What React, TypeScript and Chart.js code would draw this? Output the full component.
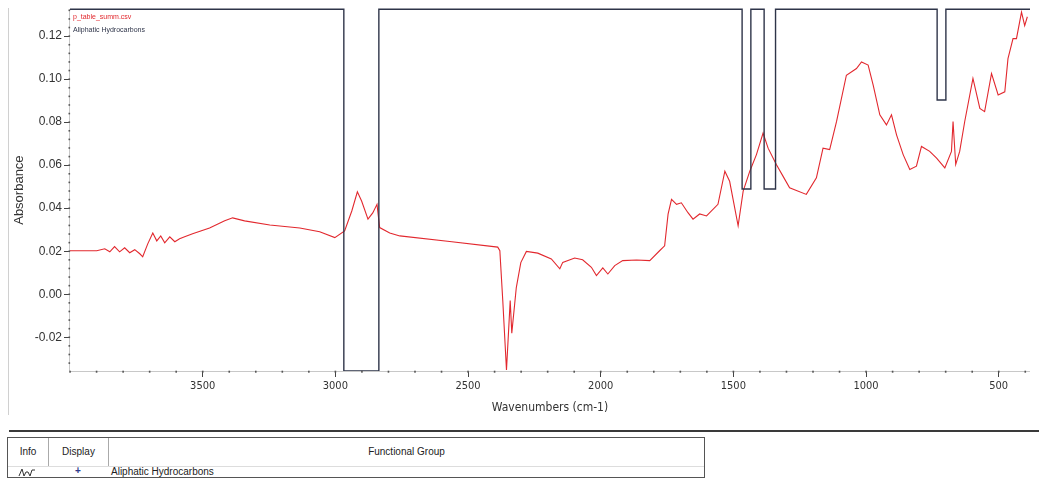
import React, { useEffect, useRef } from "react";
import { Chart, registerables } from "chart.js";

Chart.register(...registerables);

// IR spectrum (absorbance vs wavenumber)
const spectrumLabel = "p_table_summ.csv";
const spectrumWavenumbers = [
  4000, 3963, 3899, 3869, 3850, 3832, 3813, 3794, 3775, 3756, 3737, 3726, 3707, 3688, 3673, 3658,
  3643, 3624, 3605, 3587, 3568, 3538, 3474, 3417, 3387, 3342, 3247, 3134, 3059, 3002, 2965, 2938,
  2917, 2901, 2877, 2859, 2843, 2833, 2795, 2757, 2569, 2388, 2380, 2369, 2355, 2347, 2341, 2335,
  2318, 2301, 2280, 2237, 2186, 2154, 2143, 2098, 2068, 2035, 2016, 1992, 1973, 1947, 1917, 1865,
  1815, 1778, 1759, 1746, 1733, 1714, 1696, 1671, 1652, 1627, 1601, 1558, 1532, 1514, 1482, 1463,
  1438, 1413, 1388, 1369, 1338, 1313, 1288, 1225, 1187, 1162, 1137, 1111, 1074, 1036, 1017, 992,
  973, 948, 923, 904, 885, 860, 835, 810, 791, 760, 734, 703, 678, 672, 662, 647, 628, 597, 571,
  553, 527, 502, 477, 465, 446, 433, 414, 402, 392,
];
const spectrumAbsorbance = [
  0.0202, 0.0202, 0.0202, 0.0211, 0.0197, 0.0221, 0.0197, 0.0216, 0.0193, 0.0207, 0.0188, 0.0174,
  0.0234, 0.0285, 0.0248, 0.0271, 0.0239, 0.0267, 0.0244, 0.0258, 0.0267, 0.0281, 0.0308, 0.0341,
  0.0355, 0.0341, 0.0322, 0.0308, 0.029, 0.0263, 0.0294, 0.0387, 0.0476, 0.0433, 0.0349, 0.0378,
  0.0418, 0.031, 0.0285, 0.0271, 0.0245, 0.0219, 0.0202, -0.0029, -0.0352, -0.0168, -0.0029,
  -0.0181, 0.0031, 0.0147, 0.0199, 0.0191, 0.0164, 0.0118, 0.0148, 0.0168, 0.016, 0.0125, 0.0087,
  0.0122, 0.0094, 0.0133, 0.0156, 0.0159, 0.0156, 0.0202, 0.0225, 0.0372, 0.0441, 0.0418, 0.0425,
  0.0379, 0.0349, 0.0373, 0.0364, 0.0418, 0.0572, 0.0525, 0.0318, 0.0479, 0.0572, 0.0649, 0.0749,
  0.0679, 0.0603, 0.0549, 0.0495, 0.0464, 0.0541, 0.0679, 0.0672, 0.0803, 0.1018, 0.1049, 0.108,
  0.1065, 0.0972, 0.0834, 0.0787, 0.0834, 0.0741, 0.0649, 0.058, 0.0595, 0.0687, 0.0664, 0.0633,
  0.0587, 0.0664, 0.0803, 0.0603, 0.0664, 0.0803, 0.1003, 0.0864, 0.0849, 0.1026, 0.0926, 0.0941,
  0.1095, 0.1188, 0.1188, 0.1311, 0.1249, 0.129,
];

// Functional-group search bands (Aliphatic Hydrocarbons)
const bandLabel = "Aliphatic Hydrocarbons";
const bandHigh = [2968, 1467, 1384, 732];
const bandLow = [2836, 1434, 1341, 699];
const bandFloor = [-0.0357, 0.0489, 0.0489, 0.0903];

// Axes
const X_MAX = 4000;
const X_MIN = 382;
const Y_MIN = -0.0357;
const Y_MAX = 0.1325;
const xTickValues = [3500, 3000, 2500, 2000, 1500, 1000, 500];
const yTickValues = [-0.02, 0, 0.02, 0.04, 0.06, 0.08, 0.1, 0.12];
const xMinorStep = 100;
const yMinorStep = 0.004;

const RED = "#e2282e";
const NAVY = "#2e3449";
const narrowFont = "'Liberation Sans Narrow', 'DejaVu Sans Condensed', 'Liberation Sans', sans-serif";
const plainFont = "'Liberation Sans', Arial, sans-serif";

function buildBandTrace() {
  const pts: { x: number; y: number }[] = [{ x: X_MAX, y: Y_MAX }];
  bandHigh.forEach((hi, i) => {
    pts.push({ x: hi, y: Y_MAX });
    pts.push({ x: hi, y: bandFloor[i] });
    pts.push({ x: bandLow[i], y: bandFloor[i] });
    pts.push({ x: bandLow[i], y: Y_MAX });
  });
  pts.push({ x: X_MIN, y: Y_MAX });
  return pts;
}

// Dotted axis lines with a dot at every minor step, plus the small in-plot legend
const axisDecor = {
  id: "axisDecor",
  afterDraw(chart: any) {
    const { ctx, chartArea, scales } = chart;
    const xs = scales.x;
    const ys = scales.y;
    ctx.save();
    ctx.strokeStyle = "#c8c8c8";
    ctx.lineWidth = 1;
    ctx.beginPath();
    ctx.moveTo(chartArea.left - 0.5, chartArea.top);
    ctx.lineTo(chartArea.left - 0.5, chartArea.bottom);
    ctx.moveTo(chartArea.left, chartArea.bottom + 0.5);
    ctx.lineTo(chartArea.right, chartArea.bottom + 0.5);
    ctx.stroke();
    ctx.fillStyle = "#555";
    for (let v = Math.ceil(Y_MIN / yMinorStep) * yMinorStep; v <= Y_MAX; v += yMinorStep) {
      const py = ys.getPixelForValue(v);
      ctx.fillRect(chartArea.left - 1.5, py - 0.75, 1.6, 1.6);
    }
    for (let v = Math.ceil(X_MIN / xMinorStep) * xMinorStep; v <= X_MAX; v += xMinorStep) {
      const px = xs.getPixelForValue(v);
      ctx.fillRect(px - 0.75, chartArea.bottom - 0.3, 1.6, 2);
    }
    // legend labels
    ctx.font = `7px ${plainFont}`;
    ctx.textBaseline = "middle";
    chart.data.datasets.forEach((ds: any, i: number) => {
      ctx.fillStyle = ds.borderColor;
      ctx.fillText(ds.label, chartArea.left + 3, chartArea.top + 8 + i * 13);
    });
    ctx.restore();
  },
};

function SpectrumChart() {
  const canvasRef = useRef<HTMLCanvasElement>(null);
  useEffect(() => {
    const canvas = canvasRef.current;
    if (!canvas) return;
    const spectrum = spectrumWavenumbers.map((w, i) => ({ x: w, y: spectrumAbsorbance[i] }));
    const chart = new Chart(canvas, {
      type: "line",
      data: {
        datasets: [
          {
            label: spectrumLabel,
            data: spectrum,
            borderColor: RED,
            borderWidth: 1.1,
            pointRadius: 0,
            tension: 0,
            order: 1,
          },
          {
            label: bandLabel,
            data: buildBandTrace(),
            borderColor: NAVY,
            borderWidth: 1.4,
            pointRadius: 0,
            tension: 0,
            order: 0,
            clip: 4,
          },
        ],
      },
      options: {
        animation: false,
        responsive: true,
        maintainAspectRatio: false,
        parsing: true,
        layout: { padding: { top: 7, right: 9, left: 0, bottom: 0 } },
        plugins: { legend: { display: false }, tooltip: { enabled: false } },
        scales: {
          x: {
            type: "linear",
            reverse: true,
            min: X_MIN,
            max: X_MAX,
            afterBuildTicks: (s: any) => {
              s.ticks = xTickValues.map((v) => ({ value: v }));
            },
            afterFit: (s: any) => {
              s.height = 49;
            },
            ticks: {
              autoSkip: false,
              maxRotation: 0,
              padding: 3,
              color: "#333",
              font: { family: narrowFont, size: 11 },
              callback: (v: any) => String(v),
            },
            grid: { drawOnChartArea: false, drawTicks: true, tickLength: 6, tickColor: "#444", tickWidth: 1 },
            border: { display: false },
            title: {
              display: true,
              text: "Wavenumbers (cm-1)",
              color: "#333",
              font: { family: narrowFont, size: 12 },
              padding: { top: 0, bottom: 5 },
            },
          },
          y: {
            type: "linear",
            min: Y_MIN,
            max: Y_MAX,
            afterBuildTicks: (s: any) => {
              s.ticks = yTickValues.map((v) => ({ value: v }));
            },
            afterFit: (s: any) => {
              s.width = 70;
            },
            ticks: {
              padding: 2,
              color: "#333",
              font: { family: plainFont, size: 12 },
              callback: (v: any) => Number(v).toFixed(2),
            },
            grid: { drawOnChartArea: false, drawTicks: true, tickLength: 6, tickColor: "#444", tickWidth: 1 },
            border: { display: false },
            title: {
              display: true,
              text: "Absorbance",
              color: "#333",
              font: { family: plainFont, size: 13 },
              padding: { top: 12, bottom: 0 },
            },
          },
        },
      },
      plugins: [axisDecor],
    });
    return () => chart.destroy();
  }, []);
  return <canvas ref={canvasRef} />;
}

function SpectrumIcon() {
  return (
    <svg width="18" height="10" viewBox="0 0 18 10" style={{ position: "absolute", left: 10, top: 0 }}>
      <polyline points="1,9 4,2 6,9 8,5 10,5 12,9 14,3 17,3" fill="none" stroke="#333" strokeWidth="1" />
    </svg>
  );
}

export default function App() {
  const cell: React.CSSProperties = {
    position: "absolute",
    fontFamily: plainFont,
    fontSize: 10,
    color: "#222",
    whiteSpace: "nowrap",
  };
  return (
    <div style={{ position: "absolute", left: 0, top: 0, width: 1039, height: 479, background: "#fff", overflow: "hidden" }}>
      <div style={{ position: "absolute", left: 8, top: 8, width: 1, height: 407, background: "#d0d0d0" }} />
      <div style={{ position: "absolute", left: 0, top: 0, width: 1039, height: 420 }}>
        <SpectrumChart />
      </div>
      <div style={{ position: "absolute", left: 9, top: 430, width: 1030, height: 2, background: "#3a3a3a" }} />
      <div
        style={{
          position: "absolute",
          left: 7,
          top: 437,
          width: 698,
          height: 41,
          border: "1px solid #555",
          boxSizing: "border-box",
        }}
      >
        <div style={{ position: "absolute", left: 40, top: 0, width: 1, height: 28, background: "#aaa" }} />
        <div style={{ position: "absolute", left: 100, top: 0, width: 1, height: 28, background: "#aaa" }} />
        <div style={{ position: "absolute", left: 0, top: 28, width: 696, height: 1, background: "#ddd" }} />
        <div style={{ ...cell, left: 0, width: 40, top: 8, textAlign: "center" }}>Info</div>
        <div style={{ ...cell, left: 41, width: 59, top: 8, textAlign: "center" }}>Display</div>
        <div style={{ ...cell, left: 101, width: 595, top: 8, textAlign: "center" }}>Functional Group</div>
        <div style={{ position: "absolute", left: 0, top: 29, width: 40, height: 11 }}>
          <SpectrumIcon />
        </div>
        <div style={{ ...cell, left: 67, top: 27, color: "#2e3a8c", fontWeight: "bold" }}>+</div>
        <div style={{ ...cell, left: 103, top: 28 }}>{bandLabel}</div>
      </div>
    </div>
  );
}
